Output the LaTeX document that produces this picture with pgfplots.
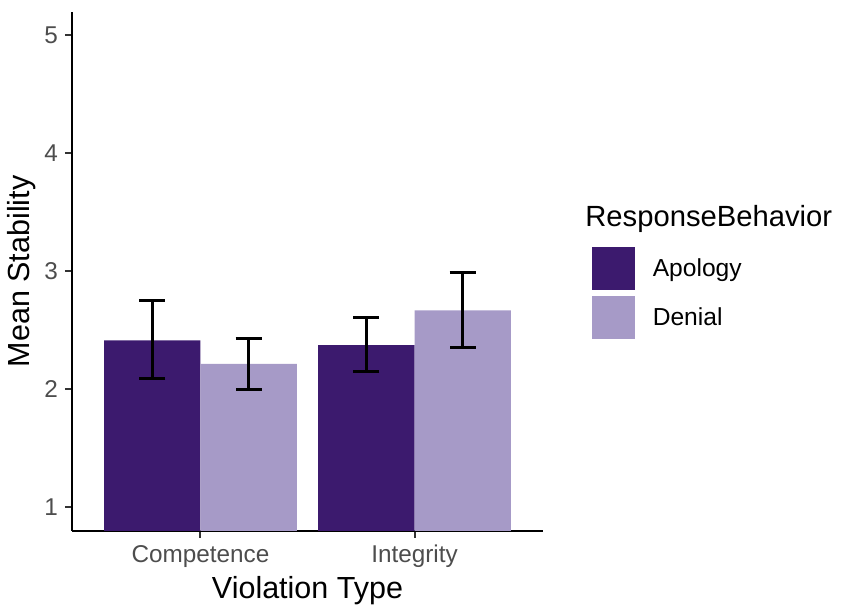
\documentclass[border=0pt]{standalone}
\usepackage{pgfplots}
\pgfplotsset{compat=1.18}
\usepackage{pgfplotstable}
\usepackage{fontspec}
\setmainfont{Liberation Sans}
\definecolor{apol}{RGB}{60,26,110}
\definecolor{deni}{RGB}{166,154,199}
\definecolor{ticktext}{RGB}{77,77,77}
\pgfplotstableread{
x y ep em
1 2.416 0.335 0.321
2 2.374 0.231 0.220
}\apology
\pgfplotstableread{
x y ep em
1 2.216 0.214 0.220
2 2.670 0.321 0.319
}\denial
\begin{document}
\begin{tikzpicture}
\begin{axis}[
  name=ax,
  scale only axis,
  width=235.5pt, height=259.65pt,
  xmin=0.4, xmax=2.6, ymin=0.8, ymax=5.2,
  axis x line=bottom, axis y line=left,
  axis line style={-, line width=1.2pt, black},
  xtick={1,2}, xticklabels={Competence,Integrity},
  ytick={1,2,3,4,5},
  /pgf/number format/assume math mode=true,
  tick align=outside,
  major tick length=3.5pt,
  tick style={line width=1pt, black!80},
  ticklabel style={font=\fontsize{12.15}{14}\selectfont, text=ticktext},
  xlabel={Violation Type}, ylabel={Mean Stability},
  label style={font=\fontsize{15.25}{18}\selectfont},
  xlabel style={yshift=2.5pt},
  ylabel style={yshift=-2.5pt},
  ybar=0pt, bar width=0.45,
  legend style={draw=none, fill=none, at={(rel axis cs:1.1034,0.5469)}, anchor=north west,
    inner sep=0pt, row sep=3pt, column sep=0pt,
    font=\fontsize{12.3}{14}\selectfont,
    nodes={inner sep=0pt, anchor=west}},
  legend cell align=left,
  clip=true,
]
\addplot[fill=apol, draw=none,
  error bars/.cd, y dir=both, y explicit,
  error bar style={line width=1.5pt, black},
  error mark options={rotate=90, mark size=6.5pt, line width=1.5pt, black},
  /pgfplots/legend image code/.code={\fill[apol] (0pt,-10.75pt) rectangle (21.5pt,10.75pt); \path (30.35pt,0pt);}]
  table[x=x, y=y, y error plus=ep, y error minus=em] {\apology};
\addlegendentry{Apology}
\addplot[fill=deni, draw=none,
  error bars/.cd, y dir=both, y explicit,
  error bar style={line width=1.5pt, black},
  error mark options={rotate=90, mark size=6.5pt, line width=1.5pt, black},
  /pgfplots/legend image code/.code={\fill[deni] (0pt,-10.75pt) rectangle (21.5pt,10.75pt); \path (30.35pt,0pt);}]
  table[x=x, y=y, y error plus=ep, y error minus=em] {\denial};
\addlegendentry{Denial}
\end{axis}
\node[anchor=base west, inner sep=0pt, font=\fontsize{14.6}{17}\selectfont] at ([xshift=21pt,yshift=-107.65pt]ax.north east) {ResponseBehavior};
\pgfresetboundingbox
\path ([xshift=-36pt,yshift=-41pt]ax.south west) rectangle ([xshift=157pt,yshift=5.85pt]ax.north east);
\end{tikzpicture}
\end{document}
